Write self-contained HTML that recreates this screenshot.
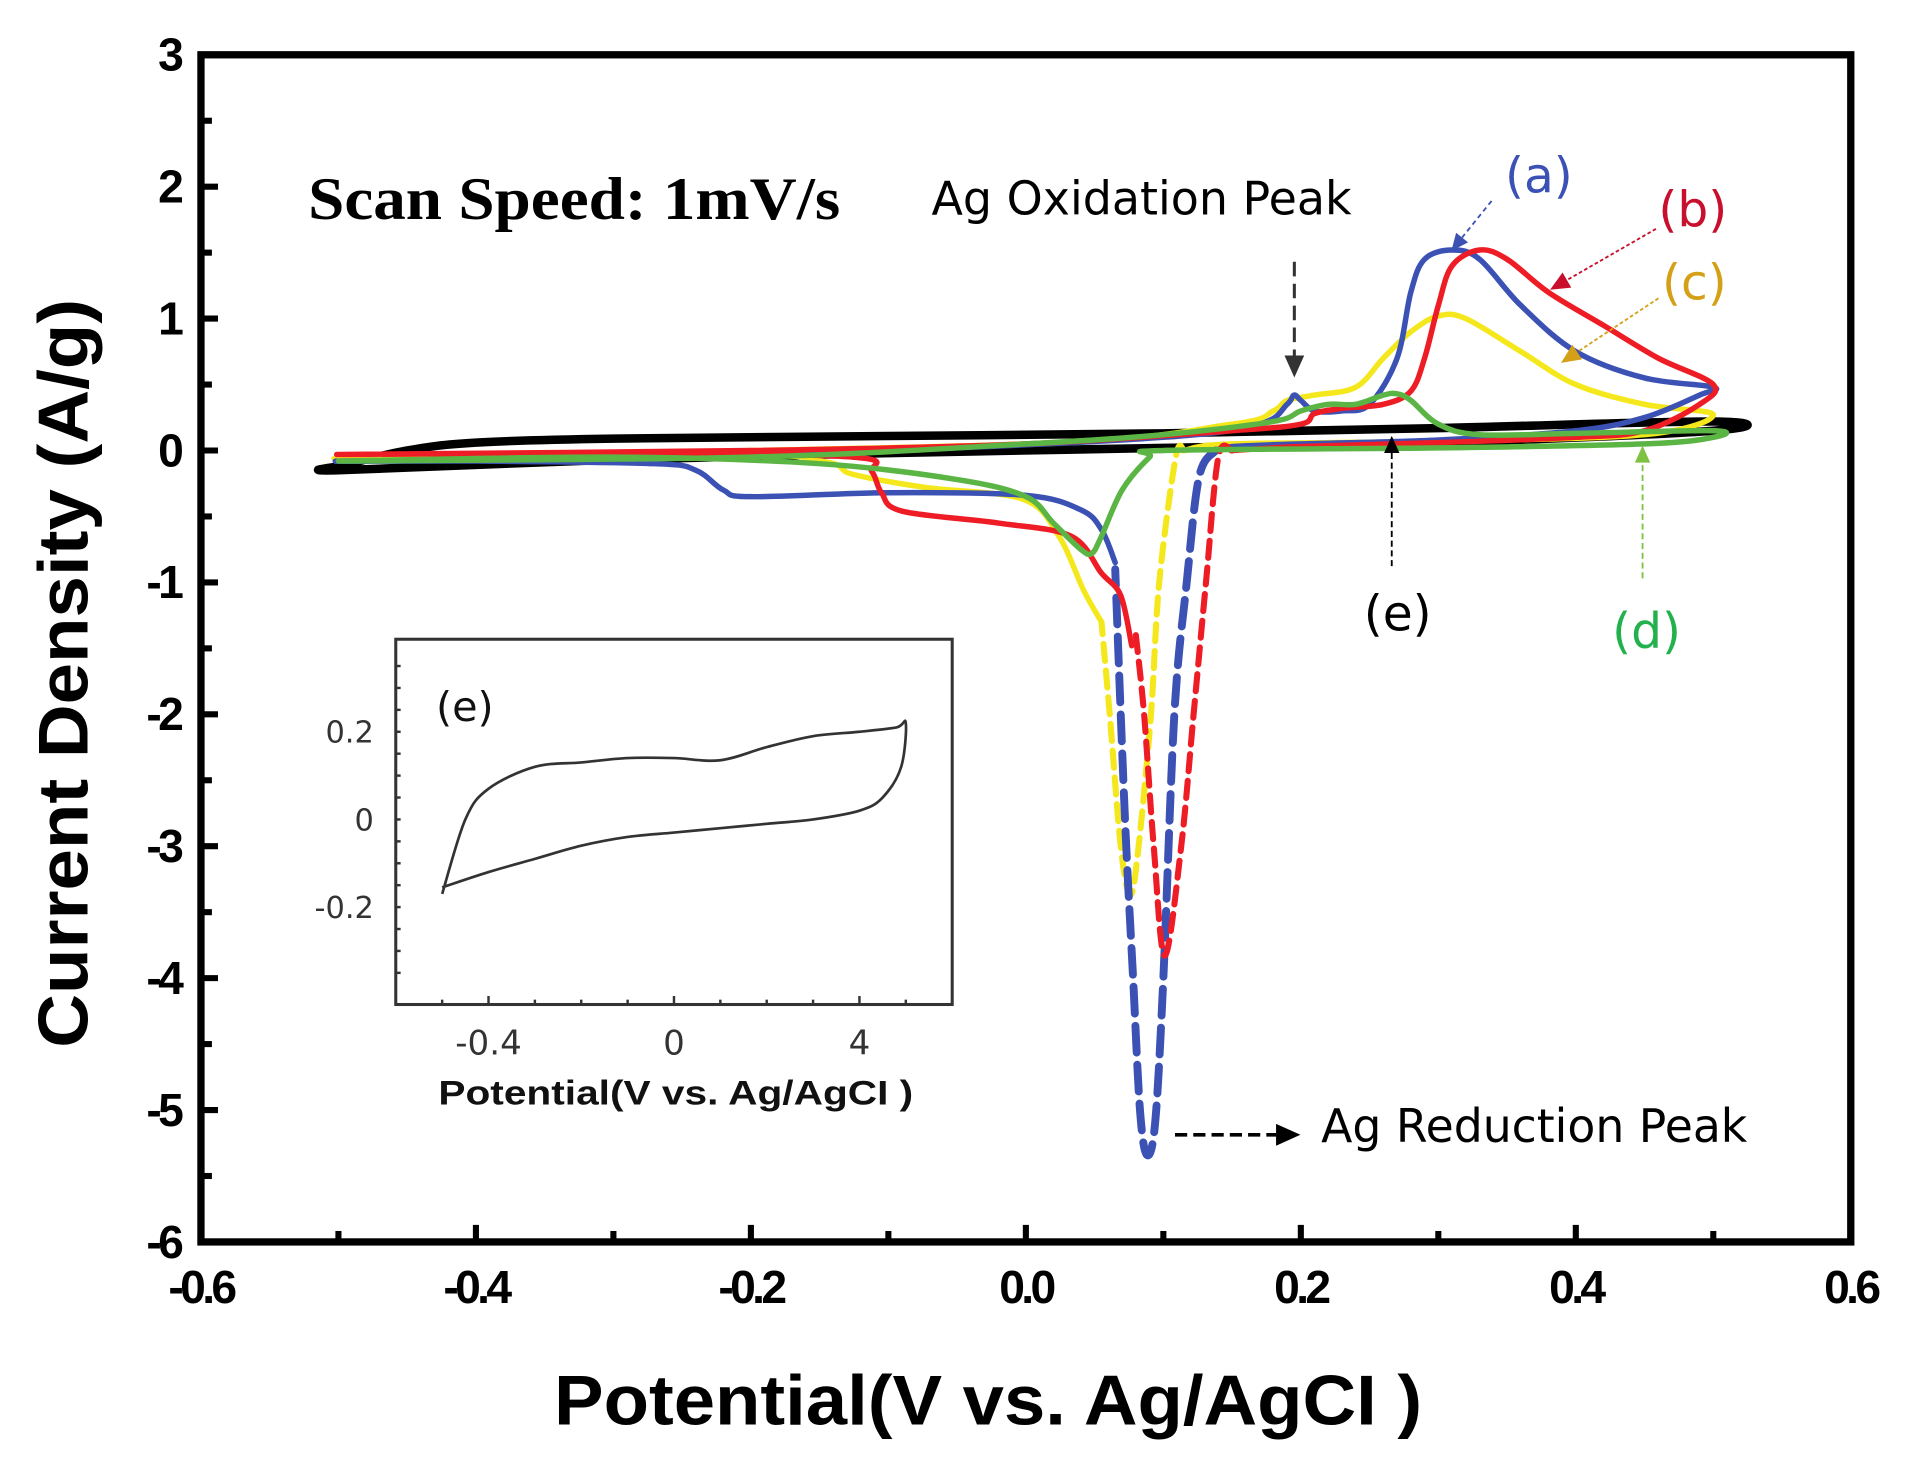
<!DOCTYPE html>
<html><head><meta charset="utf-8">
<style>
html,body{margin:0;padding:0;background:#fff;}
svg{display:block;}
</style></head>
<body>
<svg id="chart" width="1910" height="1465" viewBox="0 0 1568.6 1203.2" xmlns="http://www.w3.org/2000/svg">
<rect x="0" y="0" width="1568.6" height="1203.2" fill="#fff"/>
<g id="series"></g>
<g id="axes"></g>
<g id="inset"></g>
<g id="notes">
  <text x="253" y="180" font-family="Liberation Serif, serif" font-weight="bold" font-size="50" textLength="437" lengthAdjust="spacingAndGlyphs">Scan Speed: 1mV/s</text>
  <text x="765" y="176" font-family="DejaVu Sans, sans-serif" font-size="38" textLength="345" lengthAdjust="spacingAndGlyphs">Ag Oxidation Peak</text>
  <text x="1085" y="938" font-family="DejaVu Sans, sans-serif" font-size="38" textLength="350" lengthAdjust="spacingAndGlyphs">Ag Reduction Peak</text>
  <text x="1236" y="158" font-family="DejaVu Sans, sans-serif" font-size="40" fill="#3b52b4">(a)</text>
  <text x="1362" y="186" font-family="DejaVu Sans, sans-serif" font-size="40" fill="#c8102e">(b)</text>
  <text x="1365" y="246" font-family="DejaVu Sans, sans-serif" font-size="40" fill="#d4a017">(c)</text>
  <text x="1120" y="518" font-family="DejaVu Sans, sans-serif" font-size="40" fill="#000">(e)</text>
  <text x="1324" y="532" font-family="DejaVu Sans, sans-serif" font-size="40" fill="#22b14c">(d)</text>
  <text transform="translate(72,553) rotate(-90)" text-anchor="middle" font-family="Liberation Sans, sans-serif" font-weight="bold" font-size="58" textLength="615" lengthAdjust="spacingAndGlyphs">Current Density (A/g)</text>
  <text x="455" y="1170" font-family="Liberation Sans, sans-serif" font-weight="bold" font-size="58" textLength="713" lengthAdjust="spacingAndGlyphs">Potential(V vs. Ag/AgCI )</text>
</g>
</svg>
<script>
// ---- main chart data (V, A/g) ----
const xTicks = [-0.6,-0.4,-0.2,0.0,0.2,0.4,0.6];
const xTickLabels = ["-0.6","-0.4","-0.2","0.0","0.2","0.4","0.6"];
const yTicks = [3,2,1,0,-1,-2,-3,-4,-5,-6];
const yTickLabels = ["3","2","1","0","-1","-2","-3","-4","-5","-6"];

const blackX = [-0.5,-0.45,-0.4,-0.3,-0.1,0.1,0.3,0.5,0.5,0.3,0.1,-0.1,-0.3,-0.5,-0.5];
const blackY = [-0.12,0.0,0.06,0.09,0.11,0.13,0.17,0.22,0.15,0.06,0.02,-0.02,-0.07,-0.15,-0.12];

const blueSolidX = [0.065,0.055,0.04,0.0,-0.1,-0.2,-0.22,-0.24,-0.27,-0.4,-0.5,-0.3,-0.1,0.1,0.17,0.19,0.195,0.2,0.21,0.23,0.25,0.27,0.28,0.29,0.31,0.33,0.36,0.4,0.45,0.5,0.49,0.45,0.4,0.3,0.2,0.15,0.138];
const blueSolidY = [-0.85,-0.6,-0.45,-0.34,-0.32,-0.35,-0.3,-0.15,-0.1,-0.08,-0.08,-0.05,0.0,0.1,0.2,0.35,0.42,0.38,0.3,0.3,0.35,0.7,1.2,1.45,1.52,1.45,1.1,0.75,0.55,0.48,0.42,0.25,0.15,0.08,0.05,0.03,0.0];
const blueDashX = [0.138,0.126,0.117,0.108,0.1,0.094,0.088,0.083,0.078,0.073,0.069,0.065];
const blueDashY = [0.0,-0.2,-1.0,-2.0,-4.0,-5.1,-5.34,-5.0,-4.0,-3.0,-2.0,-0.9];

const redSolidX = [0.077,0.069,0.055,0.033,-0.02,-0.09,-0.105,-0.112,-0.126,-0.3,-0.5,-0.2,0.0,0.15,0.2,0.21,0.23,0.26,0.28,0.29,0.3,0.31,0.33,0.35,0.38,0.42,0.46,0.5,0.49,0.45,0.4,0.3,0.2,0.15];
const redSolidY = [-1.48,-1.1,-0.93,-0.65,-0.55,-0.46,-0.32,-0.16,-0.05,-0.02,-0.03,0.0,0.05,0.15,0.2,0.28,0.32,0.35,0.45,0.7,1.1,1.4,1.52,1.45,1.2,0.95,0.7,0.5,0.35,0.15,0.1,0.06,0.03,0.0];
const redDashX = [0.15,0.14,0.131,0.122,0.113,0.101,0.093,0.086,0.08];
const redDashY = [0.0,-0.05,-1.0,-2.0,-3.0,-3.83,-3.0,-2.0,-1.4];

const yelSolidX = [0.055,0.042,0.024,-0.002,-0.073,-0.126,-0.144,-0.21,-0.5,0.0,0.15,0.18,0.19,0.21,0.24,0.26,0.28,0.3,0.32,0.36,0.4,0.45,0.5,0.45,0.3,0.15,0.115];
const yelSolidY = [-1.3,-1.06,-0.65,-0.37,-0.28,-0.18,-0.09,-0.03,-0.06,0.05,0.2,0.3,0.38,0.42,0.48,0.7,0.9,1.02,1.0,0.75,0.5,0.35,0.27,0.12,0.07,0.05,0.0];
const yelDashX = [0.115,0.109,0.097,0.091,0.082,0.076,0.069,0.061,0.055];
const yelDashY = [0.0,-0.05,-1.0,-2.0,-3.0,-3.37,-3.0,-2.0,-1.3];

const greenX = [-0.5,-0.2,0.0,0.1,0.18,0.2,0.22,0.24,0.26,0.27,0.28,0.3,0.33,0.4,0.5,0.5,0.45,0.3,0.1,0.09,0.07,0.055,0.048,0.04,0.02,0.0,-0.05,-0.15,-0.3,-0.5];
const greenY = [-0.08,-0.05,0.05,0.12,0.22,0.3,0.35,0.35,0.42,0.43,0.38,0.2,0.12,0.13,0.15,0.1,0.05,0.02,0.0,-0.05,-0.3,-0.65,-0.78,-0.75,-0.55,-0.35,-0.22,-0.1,-0.05,-0.08];

// ---- inset data ----
const insetXTicks = [-0.4,0,0.4];
const insetXTickLabels = ["-0.4","0","4"];
const insetYTicks = [0.2,0,-0.2];
const insetYTickLabels = ["0.2","0","-0.2"];
const insetX = [-0.5,-0.45,-0.4,-0.3,-0.2,-0.1,0,0.1,0.2,0.3,0.4,0.48,0.5,0.49,0.45,0.4,0.3,0.2,0.1,0,-0.1,-0.2,-0.3,-0.4,-0.5];
const insetY = [-0.17,0.0,0.07,0.12,0.13,0.14,0.14,0.135,0.165,0.19,0.2,0.21,0.22,0.12,0.05,0.02,0.0,-0.01,-0.02,-0.03,-0.04,-0.06,-0.09,-0.12,-0.155];

const NS = "http://www.w3.org/2000/svg";
const L=165,R=1520,T=45,B=1020;
const sx = v => L + (v+0.6)/1.2*(R-L);
const sy = v => T + (3-v)/9*(B-T);
const ix = v => 553.5 + v*380.8;
const iy = v => 673 - v*360;

function el(tag, attrs, parent){
  const e=document.createElementNS(NS,tag);
  for(const k in attrs) e.setAttribute(k,attrs[k]);
  parent.appendChild(e); return e;
}
function smoothPath(xs, ys, fx, fy){
  const p = xs.map((x,i)=>[fx(x),fy(ys[i])]);
  let d = `M${p[0][0]},${p[0][1]}`;
  for(let i=0;i<p.length-1;i++){
    const p0=p[i-1]||p[i], p1=p[i], p2=p[i+1], p3=p[i+2]||p2;
    const c1=[p1[0]+(p2[0]-p0[0])/6, p1[1]+(p2[1]-p0[1])/6];
    const c2=[p2[0]-(p3[0]-p1[0])/6, p2[1]-(p3[1]-p1[1])/6];
    d+=` C${c1[0]},${c1[1]} ${c2[0]},${c2[1]} ${p2[0]},${p2[1]}`;
  }
  return d;
}
const sg=document.getElementById('series');
function addSeries(name, xs, ys, color, w, dash){
  const a={d:smoothPath(xs,ys,sx,sy),fill:'none',stroke:color,'stroke-width':w,'stroke-linejoin':'round','stroke-linecap':'round'};
  if(dash) a['stroke-dasharray']=dash;
  const e=el('path',a,sg);
  
  
}
addSeries('series-e-black', blackX, blackY, '#000', 7);
addSeries('series-c-yellow', yelSolidX, yelSolidY, '#f4e81c', 4.5);
addSeries('series-c-yellow-dashed', yelDashX, yelDashY, '#f4e81c', 5, '14 8');
addSeries('series-a-blue', blueSolidX, blueSolidY, '#3b52b4', 4.5);
addSeries('series-a-blue-dashed', blueDashX, blueDashY, '#3b52b4', 6.5, '22 10');
addSeries('series-b-red', redSolidX, redSolidY, '#ee1c25', 4.5);
addSeries('series-b-red-dashed', redDashX, redDashY, '#ee1c25', 5, '14 8');
addSeries('series-d-green', greenX, greenY, '#5bb544', 4.5);

// axes
const ag=document.getElementById('axes');
const frame=el('rect',{x:L,y:T,width:R-L,height:B-T,fill:'none',stroke:'#000','stroke-width':6},ag);


for(let v=-0.6; v<=0.6001; v+=0.1){
  const major = Math.abs(Math.round(v*10))%2===0;
  el('line',{x1:sx(v),x2:sx(v),y1:B,y2:B-(major?14:9),stroke:'#000','stroke-width':5},ag);
}
for(let v=-6; v<=3.001; v+=0.5){
  const major = Math.abs(v-Math.round(v))<0.01;
  el('line',{x1:L,x2:L+(major?14:9),y1:sy(v),y2:sy(v),stroke:'#000','stroke-width':5},ag);
}
xTicks.forEach((v,i)=>{
  const t=el('text',{x:sx(v),y:1070,'text-anchor':'middle','font-family':'Liberation Sans, sans-serif','font-weight':'bold','font-size':38,'letter-spacing':-3},ag);
  t.textContent=xTickLabels[i];
  
  
});
yTicks.forEach((v,i)=>{
  const t=el('text',{x:148,y:sy(v)+13,'text-anchor':'end','font-family':'Liberation Sans, sans-serif','font-weight':'bold','font-size':38,'letter-spacing':-3},ag);
  t.textContent=yTickLabels[i];
  
  
});

// inset
const ig=document.getElementById('inset');
const ibox=el('rect',{x:325,y:525,width:457,height:300,fill:'#fff',stroke:'#333','stroke-width':2.5},ig);


for(let v=-0.5; v<=0.5001; v+=0.1){
  const major=[-0.4,0,0.4].some(m=>Math.abs(m-v)<0.01);
  el('line',{x1:ix(v),x2:ix(v),y1:825,y2:825-(major?7:4),stroke:'#333','stroke-width':2},ig);
}
for(let v=-0.35; v<=0.3501; v+=0.05){
  el('line',{x1:325,x2:329,y1:iy(v),y2:iy(v),stroke:'#333','stroke-width':2},ig);
}
insetXTicks.forEach((v,i)=>{
  const t=el('text',{x:ix(v),y:866,'text-anchor':'middle','font-family':'DejaVu Sans, sans-serif','font-size':28,fill:'#333'},ig);
  t.textContent=insetXTickLabels[i];
  
  
});
insetYTicks.forEach((v,i)=>{
  const t=el('text',{x:307,y:iy(v)+9,'text-anchor':'end','font-family':'DejaVu Sans, sans-serif','font-size':25,fill:'#333'},ig);
  t.textContent=insetYTickLabels[i];
  
  
});
const ic=el('path',{d:smoothPath(insetX,insetY,ix,iy),fill:'none',stroke:'#333','stroke-width':2.2},ig);


const il=el('text',{x:358,y:592,'font-family':'DejaVu Sans, sans-serif','font-size':34,fill:'#111'},ig);
il.textContent='(e)';


const ixt=el('text',{x:360,y:907,'font-family':'Liberation Sans, sans-serif','font-weight':'bold','font-size':28,textLength:390,lengthAdjust:'spacingAndGlyphs',fill:'#111'},ig);
ixt.textContent='Potential(V vs. Ag/AgCI )';



// arrows
const ng=document.getElementById('notes');
function arrow(name,x1,y1,x2,y2,color,w,dash,hs){
  const g=el('g',{},ng);
  
  
  const ang=Math.atan2(y2-y1,x2-x1);
  const bx=x2-hs*Math.cos(ang), by=y2-hs*Math.sin(ang);
  el('line',{x1:x1,y1:y1,x2:bx,y2:by,stroke:color,'stroke-width':w,'stroke-dasharray':dash},g);
  const px=-Math.sin(ang)*hs*0.45, py=Math.cos(ang)*hs*0.45;
  el('polygon',{points:`${x2},${y2} ${bx+px},${by+py} ${bx-px},${by-py}`,fill:color},g);
}
arrow('oxidation-arrow',1063,215,1063,310,'#333',2.5,'12 6',18);
arrow('reduction-arrow',965,932,1068,932,'#000',3,'10 5',20);
arrow('arrow-a',1225,165,1192,206,'#3b52b4',1.5,'4 3',14);
arrow('arrow-b',1360,188,1273,238,'#c8102e',1.5,'3 2',16);
arrow('arrow-c',1362,245,1282,298,'#d4a017',1.5,'3 2',16);
arrow('arrow-e',1143,465,1143,358,'#000',1.5,'5 3',14);
arrow('arrow-d',1349,475,1349,366,'#7dc242',1.5,'5 3',14);
</script>
</body></html>
